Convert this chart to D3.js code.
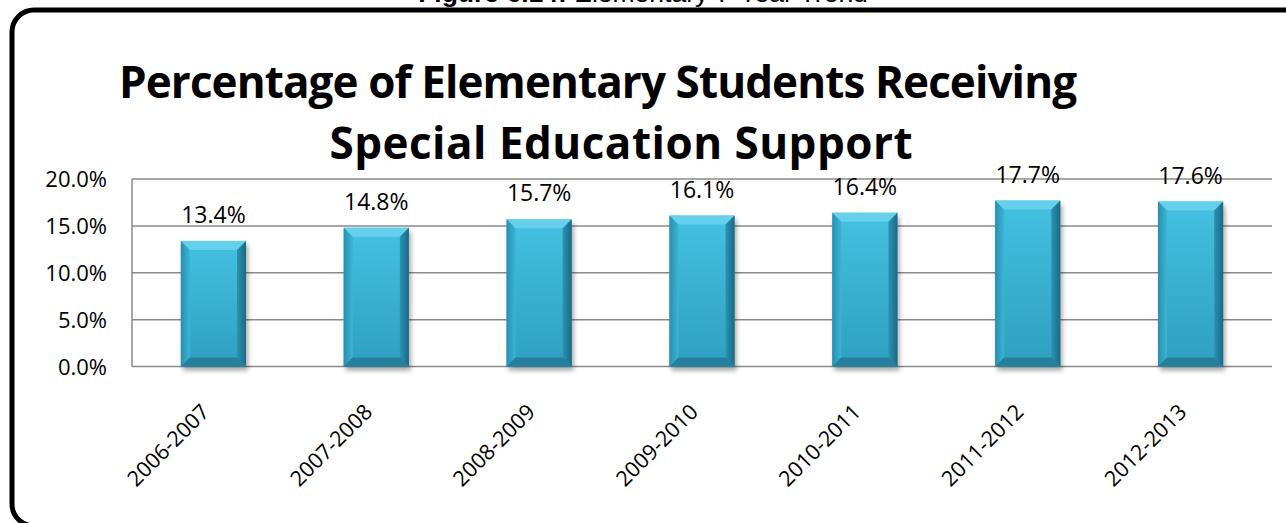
<!DOCTYPE html>
<html>
<head>
<meta charset="utf-8">
<script src="https://cdn.jsdelivr.net/npm/d3@7"></script>
<style>
  html, body { margin: 0; padding: 0; background: #ffffff; }
  svg { display: block; }
</style>
</head>
<body>
<svg id="chart" width="1286" height="523"></svg>
<script>
// School years and share of elementary students in special education
const years = ["2006-2007", "2007-2008", "2008-2009", "2009-2010", "2010-2011", "2011-2012", "2012-2013"];
const percents = [13.4, 14.8, 15.7, 16.1, 16.4, 17.7, 17.6];
const yTicks = [0, 5, 10, 15, 20];
const titleLines = ["Percentage of Elementary Students Receiving", "Special Education Support"];
const caption = { bold: "Figure 6.14:", rest: " Elementary 7-Year Trend" };

const svg = d3.select("#chart");
const FONT = "'Open Sans', 'Noto Sans', sans-serif";

const defs = svg.append("defs");
const face = defs.append("linearGradient").attr("id", "face").attr("x1", 0).attr("y1", 0).attr("x2", 0).attr("y2", 1);
face.append("stop").attr("offset", "0%").attr("stop-color", "#44c1e1");
face.append("stop").attr("offset", "100%").attr("stop-color", "#2f9fc0");
const rightG = defs.append("linearGradient").attr("id", "rightBevel").attr("x1", 0).attr("y1", 0).attr("x2", 1).attr("y2", 0);
rightG.append("stop").attr("offset", "0%").attr("stop-color", "#2b93b3");
rightG.append("stop").attr("offset", "100%").attr("stop-color", "#1a6a82");
const leftG = defs.append("linearGradient").attr("id", "leftBevel").attr("x1", 0).attr("y1", 0).attr("x2", 1).attr("y2", 0);
leftG.append("stop").attr("offset", "0%").attr("stop-color", "#2a8fae");
leftG.append("stop").attr("offset", "100%").attr("stop-color", "#3bb5d6");
const shadow = defs.append("filter").attr("id", "shadow").attr("x", "-20%").attr("y", "-20%").attr("width", "140%").attr("height", "140%");
shadow.append("feGaussianBlur").attr("stdDeviation", 2.5);

// Caption above the framed chart
const cap = svg.append("text")
  .attr("x", 643).attr("y", 2)
  .attr("text-anchor", "middle")
  .style("font-family", "'Liberation Sans', Arial, sans-serif")
  .style("font-size", "26.5px")
  .attr("fill", "#000");
cap.append("tspan").style("font-weight", "bold").text(caption.bold);
cap.append("tspan").text(caption.rest);

// Rounded chart frame
svg.append("rect")
  .attr("x", 12).attr("y", 10)
  .attr("width", 1300).attr("height", 516)
  .attr("rx", 22).attr("ry", 22)
  .attr("fill", "none")
  .attr("stroke", "#000")
  .attr("stroke-width", 5);

// Chart title, two centred lines
const titleLayout = [{ cx: 598, len: 958 }, { cx: 621, len: 583 }];
svg.append("g").selectAll("text").data(titleLines).join("text")
  .attr("x", (d, i) => titleLayout[i].cx)
  .attr("y", (d, i) => 98 + i * 61)
  .attr("text-anchor", "middle")
  .attr("textLength", (d, i) => titleLayout[i].len)
  .attr("lengthAdjust", "spacing")
  .style("font-family", FONT)
  .style("font-weight", "bold")
  .style("font-size", "44px")
  .attr("fill", "#000")
  .text(d => d);

// Plot area
const plot = { left: 132, right: 1272, top: 179, bottom: 366.5 };
const x = d3.scaleBand().domain(years).range([plot.left, plot.right]).paddingInner(0.6).paddingOuter(0.3);
const y = d3.scaleLinear().domain([0, 20]).range([plot.bottom, plot.top]);

// Horizontal gridlines and y labels
const yAxis = d3.axisLeft(y).tickValues(yTicks).tickSize(0).tickPadding(0)
  .tickFormat(d => d3.format(".1f")(d) + "%");
const gY = svg.append("g").attr("transform", `translate(107,0)`).call(yAxis);
gY.select(".domain").remove();
gY.selectAll("text")
  .style("font-family", FONT).style("font-size", "22px").attr("fill", "#000")
  .attr("dy", "0.35em").attr("x", 0);

svg.append("g").selectAll("line").data(yTicks).join("line")
  .attr("x1", plot.left).attr("x2", plot.right)
  .attr("y1", d => y(d)).attr("y2", d => y(d))
  .attr("stroke", "#8a8a8a").attr("stroke-width", 1.5);
svg.append("line")
  .attr("x1", plot.left).attr("x2", plot.left)
  .attr("y1", y(20)).attr("y2", y(0))
  .attr("stroke", "#8a8a8a").attr("stroke-width", 1.5);

// Bevelled bars
const data = years.map((yr, i) => ({ yr, v: percents[i] }));
const bars = svg.append("g").selectAll("g").data(data).join("g");
const bw = x.bandwidth();
const bev = 9;

bars.append("rect")
  .attr("x", d => x(d.yr) + 2).attr("y", d => y(d.v) + 4)
  .attr("width", bw).attr("height", d => y(0) - y(d.v))
  .attr("fill", "#000").attr("opacity", 0.35)
  .attr("filter", "url(#shadow)");

bars.append("rect")
  .attr("x", d => x(d.yr)).attr("y", d => y(d.v))
  .attr("width", bw).attr("height", d => y(0) - y(d.v))
  .attr("fill", "url(#face)");

function poly(points) { return "M" + points.map(p => p.join(",")).join("L") + "Z"; }
// top bevel
bars.append("path")
  .attr("d", d => {
    const x0 = x(d.yr), x1 = x0 + bw, t = y(d.v);
    return poly([[x0, t], [x1, t], [x1 - bev, t + bev], [x0 + bev, t + bev]]);
  })
  .attr("fill", "#66cfeb");
// left bevel
bars.append("path")
  .attr("d", d => {
    const x0 = x(d.yr), t = y(d.v), b = y(0);
    return poly([[x0, t], [x0 + bev, t + bev], [x0 + bev, b - bev], [x0, b]]);
  })
  .attr("fill", "url(#leftBevel)");
// right bevel
bars.append("path")
  .attr("d", d => {
    const x1 = x(d.yr) + bw, t = y(d.v), b = y(0);
    return poly([[x1, t], [x1 - bev, t + bev], [x1 - bev, b - bev], [x1, b]]);
  })
  .attr("fill", "url(#rightBevel)");
// bottom bevel
bars.append("path")
  .attr("d", d => {
    const x0 = x(d.yr), x1 = x0 + bw, b = y(0);
    return poly([[x0, b], [x0 + bev, b - bev], [x1 - bev, b - bev], [x1, b]]);
  })
  .attr("fill", "#24809c");

// Value labels
bars.append("text")
  .attr("x", d => x(d.yr) + bw / 2)
  .attr("y", d => y(d.v) - 18)
  .attr("text-anchor", "middle")
  .style("font-family", FONT).style("font-size", "23px")
  .attr("fill", "#000")
  .text(d => d3.format(".1f")(d.v) + "%");

// Category labels, slanted
svg.append("g").selectAll("text").data(years).join("text")
  .attr("transform", d => `translate(${x(d) + bw / 2 - 8},408) rotate(-45)`)
  .attr("text-anchor", "end")
  .attr("dy", "0.35em")
  .style("font-family", FONT).style("font-size", "21.5px")
  .attr("fill", "#000")
  .text(d => d);
</script>
</body>
</html>
